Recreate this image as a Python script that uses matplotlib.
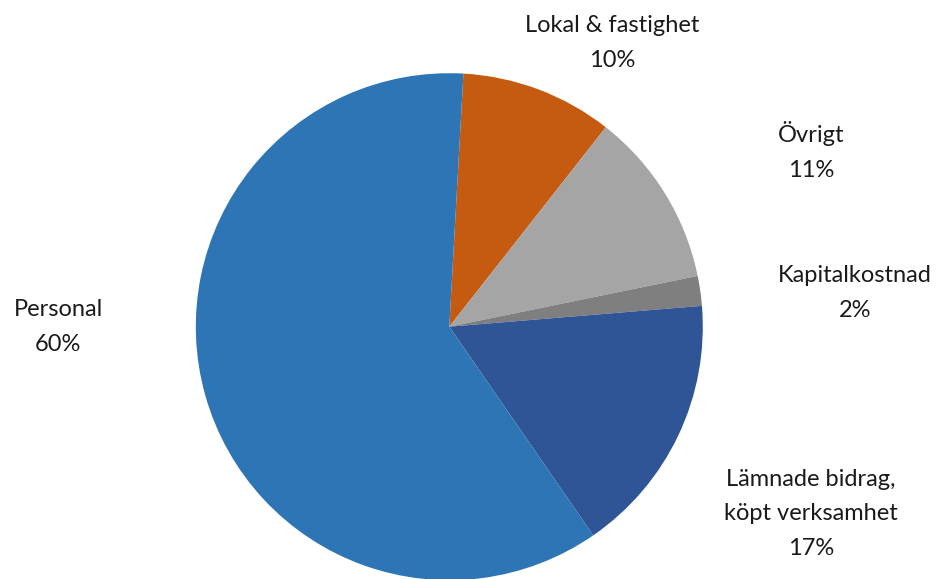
import matplotlib
matplotlib.use("Agg")
import matplotlib.pyplot as plt

categories = ["Lokal & fastighet", "Övrigt", "Kapitalkostnad",
              "Lämnade bidrag,\nköpt verksamhet", "Personal"]
values = [9.7, 11.2, 1.9, 16.7, 60.5]
pct_labels = ["10%", "11%", "2%", "17%", "60%"]
colors = ["#C55A11", "#A5A5A5", "#7F7F7F", "#2F5597", "#2E75B6"]

W, H = 936, 579
cx, cy, R = 449.3, 326.7, 253.5

fig = plt.figure(figsize=(W / 100, H / 100), dpi=100)
ax = fig.add_axes([0, 0, 1, 1])

ax.pie(values, colors=colors, startangle=90 - 3.2, counterclock=False,
       radius=1.0, center=(0, 0), frame=False,
       wedgeprops=dict(linewidth=0))

ax.set_xlim(-cx / R, (W - cx) / R)
ax.set_ylim(-(H - cy) / R, cy / R)
ax.set_aspect("equal")
ax.axis("off")

# label positions in pixels (centre of text block)
label_pos = [(612, 43), (811, 151), (855, 293), (811, 514), (58, 327)]

def px2data(x, y):
    return (x - cx) / R, (cy - y) / R

for cat, pct, (px, py) in zip(categories, pct_labels, label_pos):
    x, y = px2data(px, py)
    ax.text(x, y, f"{cat}\n{pct}", ha="center", va="center",
            fontsize=17, family="Lato", color="#1a1a1a", linespacing=1.8)

fig.savefig("out.png", dpi=100)
